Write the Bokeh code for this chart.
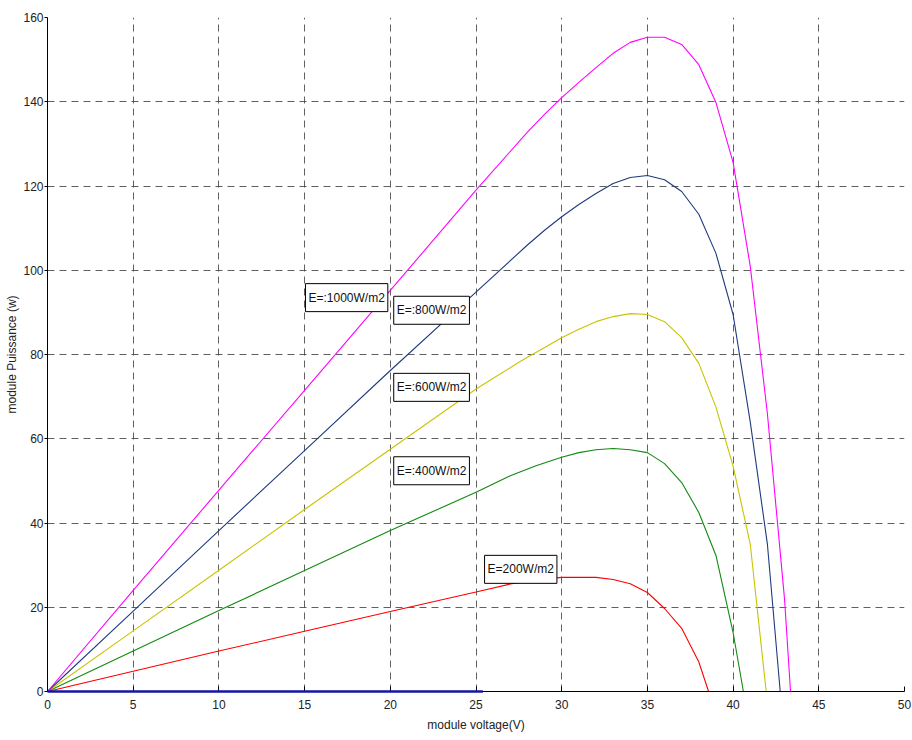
from bokeh.plotting import figure
from bokeh.models import Range1d, FixedTicker, Label
from bokeh.embed import file_html
from bokeh.resources import INLINE

# --- data (module voltage V, power W) ---
v_1000 = [0, 5, 10, 15, 20, 25, 28, 29, 30, 31, 32, 33, 34, 35, 36, 37, 38, 39, 40, 41, 42, 43, 43.35]
p_1000 = [0, 24.0, 47.8, 71.5, 95.2, 119.0, 132.8, 137.0, 141.0, 144.6, 148.1, 151.5, 154.1, 155.3, 155.3,
          153.6, 148.8, 139.8, 125.6, 101.0, 66.0, 22.0, 0]

v_800 = [0, 5, 10, 15, 20, 25, 28, 29, 30, 31, 32, 33, 34, 35, 36, 37, 38, 39, 40, 41, 42, 42.75]
p_800 = [0, 19.1, 38.2, 57.2, 76.2, 94.8, 106.0, 109.5, 112.7, 115.6, 118.2, 120.6, 122.0, 122.5,
         121.5, 118.7, 113.3, 104.0, 89.5, 64.0, 35.0, 0]

v_600 = [0, 5, 10, 15, 20, 25, 27.6, 30, 31, 32, 33, 34, 35, 36, 37, 38, 39, 40, 41, 41.93]
p_600 = [0, 14.4, 28.8, 43.2, 57.5, 71.8, 78.4, 84.0, 86.0, 87.8, 89.0, 89.7, 89.5, 87.8, 84.0,
         77.9, 67.5, 53.5, 35.0, 0]

v_400 = [0, 5, 10, 15, 20, 25, 27, 28.5, 30, 31, 32, 33, 34, 35, 36, 37, 38, 39, 40, 40.6]
p_400 = [0, 9.6, 19.2, 28.7, 38.2, 47.3, 51.2, 53.6, 55.6, 56.7, 57.4, 57.7, 57.4, 56.7, 54.1,
         49.6, 42.5, 32.3, 14.0, 0]

v_200 = [0, 5, 10, 15, 20, 25, 27, 28.5, 30, 32, 33, 34, 35, 36, 37, 38, 38.57]
p_200 = [0, 4.8, 9.6, 14.3, 19.0, 23.6, 25.5, 26.5, 27.1, 27.1, 26.6, 25.6, 23.5, 19.7, 15.0, 7.0, 0]

v_zero = [0, 25.4]
p_zero = [0, 0]

x_ticks = [0, 5, 10, 15, 20, 25, 30, 35, 40, 45, 50]
y_ticks = [0, 20, 40, 60, 80, 100, 120, 140, 160]

FONT = "Liberation Sans"

p = figure(width=912, height=740, output_backend="svg", toolbar_location=None,
           x_range=Range1d(0, 50), y_range=Range1d(0, 160),
           min_border_left=47, min_border_right=8, min_border_top=17, min_border_bottom=49)
p.outline_line_color = None
p.background_fill_color = "white"
p.border_fill_color = "white"

# grid
for g in (p.xgrid, p.ygrid):
    g.grid_line_color = "#444444"
    g.grid_line_dash = "7 5"
    g.grid_line_width = 1
    g.grid_line_alpha = 0.85
p.xgrid.ticker = FixedTicker(ticks=x_ticks)
p.ygrid.ticker = FixedTicker(ticks=y_ticks)

# axes
p.xaxis.ticker = FixedTicker(ticks=x_ticks)
p.yaxis.ticker = FixedTicker(ticks=y_ticks)
for ax in (p.xaxis[0], p.yaxis[0]):
    ax.axis_line_color = "black"
    ax.major_tick_line_color = "black"
    ax.minor_tick_line_color = None
    ax.major_label_text_font = FONT
    ax.major_label_text_font_size = "12px"
    ax.major_label_text_color = "#222222"
    ax.axis_label_text_font = FONT
    ax.axis_label_text_font_size = "12px"
    ax.axis_label_text_font_style = "normal"
    ax.axis_label_text_color = "#222222"
p.xaxis.major_tick_in = 5
p.xaxis.major_tick_out = 0
p.yaxis.major_tick_in = 0
p.yaxis.major_tick_out = 3
p.xaxis.major_label_standoff = 8
p.yaxis.major_label_standoff = 1
p.xaxis.axis_label = "module voltage(V)"
p.yaxis.axis_label = "module Puissance (w)"
p.xaxis.axis_label_standoff = 6
p.yaxis.axis_label_standoff = 1

# curves
p.line(v_200, p_200, line_color="#FF0000", line_width=1.1)
p.line(v_400, p_400, line_color="#118A11", line_width=1.1)
p.line(v_600, p_600, line_color="#C8C400", line_width=1.1)
p.line(v_800, p_800, line_color="#1F3A7E", line_width=1.1)
p.line(v_1000, p_1000, line_color="#FF00FF", line_width=1.1)
p.line(v_zero, p_zero, line_color="#1414A8", line_width=2.5, level="overlay")

# boxed labels
labels = [
    ("E=:1000W/m2", 15.05, 93.5),
    ("E=:800W/m2", 20.2, 90.5),
    ("E=:600W/m2", 20.2, 72.2),
    ("E=:400W/m2", 20.2, 52.4),
    ("E=200W/m2", 25.5, 29.0),
]
for txt, lx, ly in labels:
    p.add_layout(Label(x=lx, y=ly, text=txt, text_font=FONT, text_font_size="12px",
                       text_color="#111111", text_baseline="middle", text_align="left",
                       background_fill_color="white", border_line_color="black",
                       border_line_width=1, padding=(3, 7)))

open("out.html", "w").write(file_html(p, INLINE))
